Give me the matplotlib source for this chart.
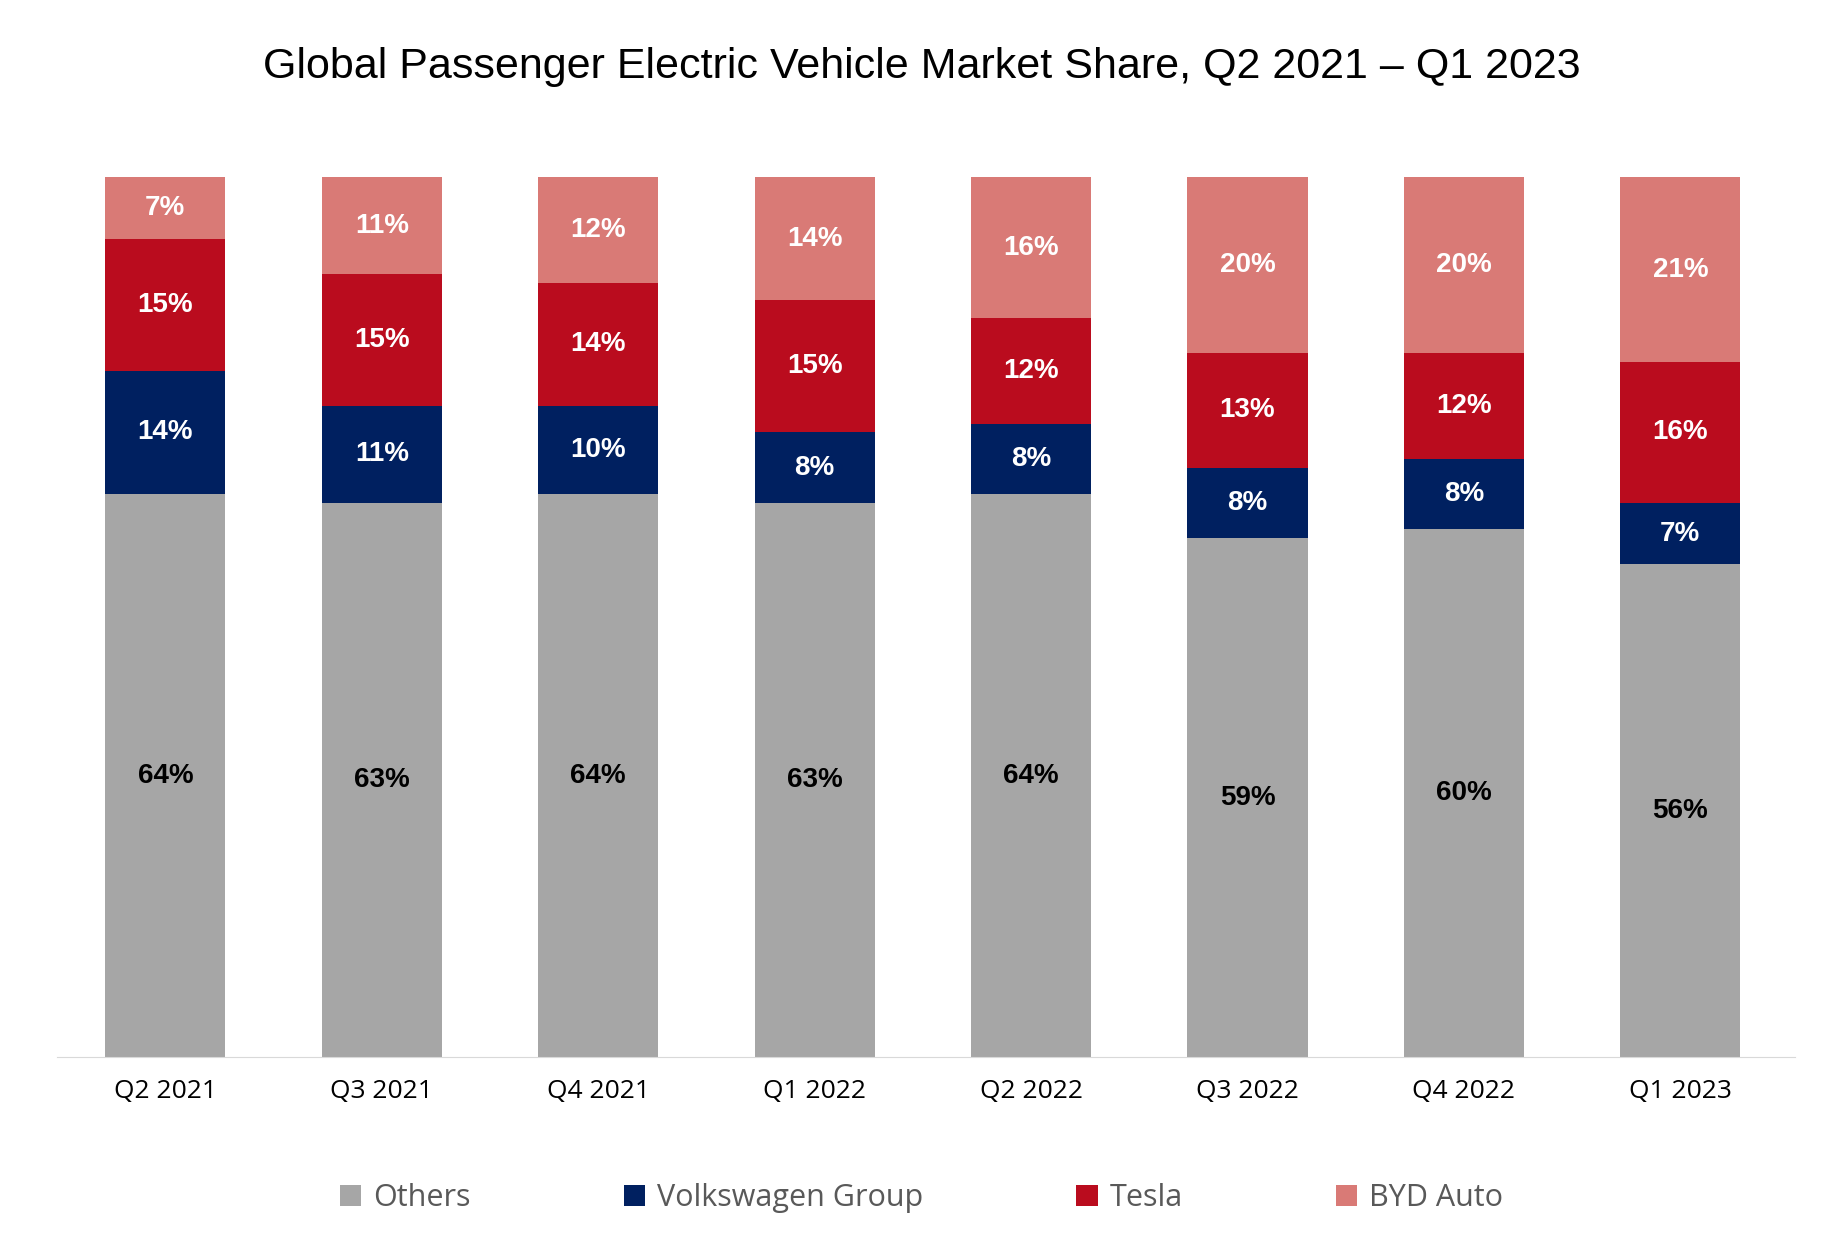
import numpy as np
from matplotlib import pyplot as plt

quarters = ['Q2 2021', 'Q3 2021', 'Q4 2021', 'Q1 2022', 'Q2 2022', 'Q3 2022', 'Q4 2022', 'Q1 2023']
others = [64, 63, 64, 63, 64, 59, 60, 56]
vw = [14, 11, 10, 8, 8, 8, 8, 7]
tesla = [15, 15, 14, 15, 12, 13, 12, 16]
byd = [7, 11, 12, 14, 16, 20, 20, 21]

series = [('Others', others, '#A6A6A6', 'black'),
          ('Volkswagen Group', vw, '#002060', 'white'),
          ('Tesla', tesla, '#BA0C1E', 'white'),
          ('BYD Auto', byd, '#D97A76', 'white')]

fig = plt.figure(figsize=(18.43, 12.48), dpi=100)
ax = fig.add_axes([0.031, 0.153, 0.943, 0.705])
x = np.arange(len(quarters))
bottom = np.zeros(len(quarters))
for name, vals, col, tcol in series:
    vals = np.array(vals, dtype=float)
    ax.bar(x, vals, 0.555, bottom=bottom, color=col, label=name)
    for xi, b, v in zip(x, bottom, vals):
        ax.text(xi, b + v / 2, f'{int(v)}%', ha='center', va='center',
                color=tcol, fontsize=20, fontweight='bold', family='Liberation Sans')
    bottom += vals

ax.set_xlim(-0.5, 7.53)
ax.set_ylim(0, 100)
ax.set_yticks([])
ax.set_xticks(x, quarters, fontsize=19, family='Open Sans')
ax.tick_params(axis='x', length=0, pad=16)
for s in ['top', 'right', 'left']:
    ax.spines[s].set_visible(False)
ax.spines['bottom'].set_color('#D9D9D9')

fig.suptitle('Global Passenger Electric Vehicle Market Share, Q2 2021 \u2013 Q1 2023',
             y=0.962, fontsize=31, family='Liberation Sans')
fig.legend(loc='center', bbox_to_anchor=(0.5, 0.04), ncol=4, frameon=False,
           prop={'family': 'Open Sans', 'size': 22}, handlelength=0.7, handleheight=0.7,
           handletextpad=0.4, columnspacing=5.0, labelcolor='#595959')

plt.savefig('out.png')
